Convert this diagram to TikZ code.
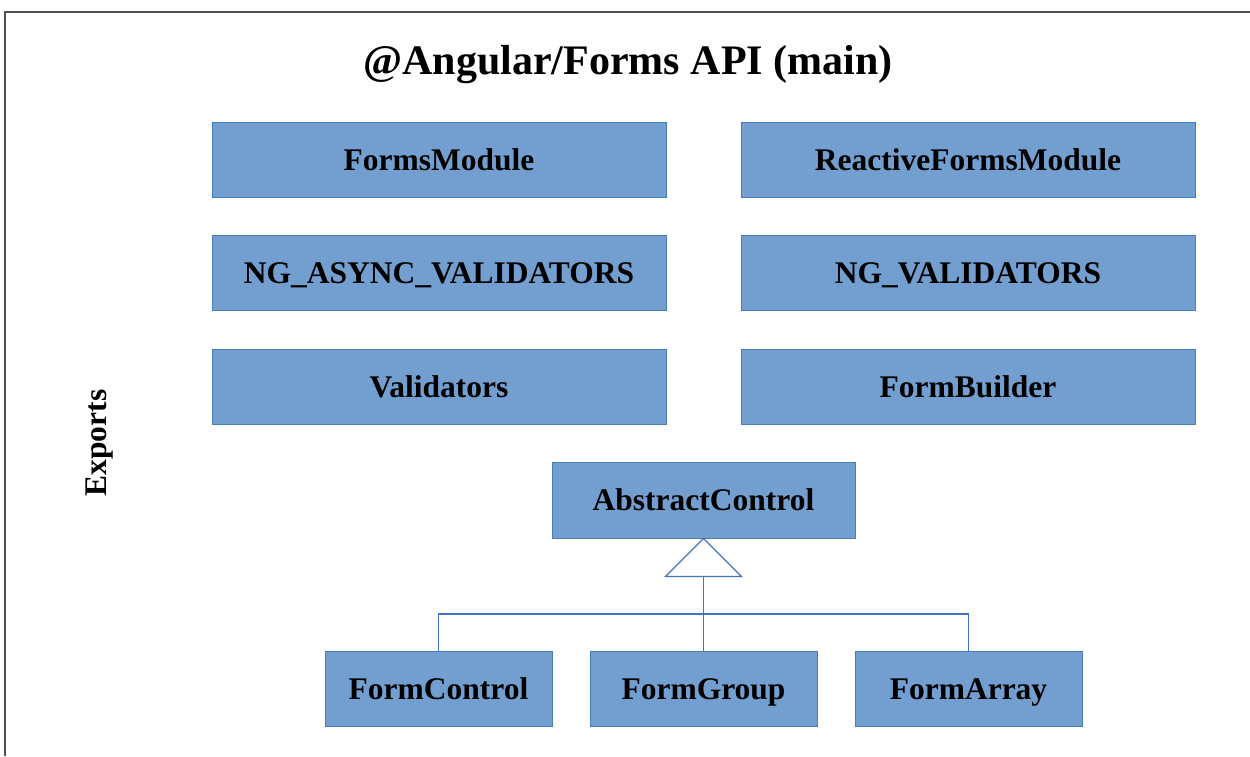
\documentclass[tikz,border=0pt]{standalone}
\usepackage{fontspec}
\setmainfont{Liberation Serif}
\usetikzlibrary{calc}
\definecolor{boxfill}{RGB}{114,159,207}
\definecolor{boxline}{RGB}{74,126,187}
\definecolor{conn}{RGB}{68,114,196}
\definecolor{frame}{RGB}{80,80,80}
\tikzset{
  apibox/.style={draw=boxline, line width=1pt, fill=boxfill, inner sep=0pt,
    font=\fontsize{31.5}{36}\selectfont\bfseries, text=black,
    text height=21pt, text depth=0pt},
  wide/.style={apibox, minimum width=454pt, minimum height=75pt},
  small/.style={apibox, minimum width=227pt, minimum height=75pt},
  connector/.style={draw=conn, line width=1.1pt},
}
\begin{document}
\begin{tikzpicture}[x=1pt,y=-1pt]
\useasboundingbox (0,0) rectangle (1250,756);
\draw[frame, line width=2pt] (5,756) -- (5,12) -- (1250,12);
\node[font=\fontsize{42}{48}\selectfont\bfseries] (title) at (628,65) {@Angular/Forms API (main)};
\node[font=\fontsize{31.5}{36}\selectfont\bfseries, rotate=90] (exports) at (100,443) {Exports};
\node[wide] (fm) at (439,159.5) {FormsModule};
\node[wide] (rfm) at (968,159.5) {ReactiveFormsModule};
\node[wide] (nav) at (439,272.5) {NG\_ASYNC\_VALIDATORS};
\node[wide] (nv) at (968,272.5) {NG\_VALIDATORS};
\node[wide] (val) at (439,386.5) {Validators};
\node[wide] (fb) at (968,386.5) {FormBuilder};
\node[apibox, minimum width=303pt, minimum height=76pt] (ac) at (703.5,500) {AbstractControl};
\node[small] (fc) at (438.5,688.5) {FormControl};
\node[small] (fg) at (703.5,688.5) {FormGroup};
\node[small] (fa) at (968.5,688.5) {FormArray};
\draw[connector, fill=white] (ac.south) -- ++(38,38) -- ++(-76,0) -- cycle;
\coordinate (tb) at ($(ac.south)+(0,38)$);
\coordinate (bus) at (703.5,614);
\draw[connector] (tb) -- (fg.north);
\draw[connector] (fc.north) -- (fc.north |- bus) -- (fa.north |- bus) -- (fa.north);
\end{tikzpicture}
\end{document}
